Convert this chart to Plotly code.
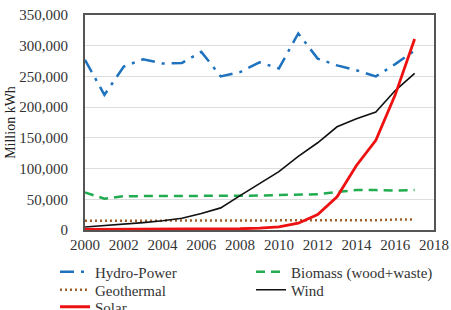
import plotly.graph_objects as go

years = list(range(2000, 2018))
hydro = [277000, 220000, 266000, 278000, 271000, 272000, 290000, 250000, 257000, 273000,
         263000, 320000, 279000, 268000, 260000, 250000, 270000, 292000]
biomass = [61000, 51000, 55000, 55000, 55000, 55000, 56000, 56000, 56000, 56000,
           57000, 57000, 58000, 62000, 65000, 65000, 64000, 65000]
geothermal = [15000, 15000, 15000, 15000, 15000, 15000, 15000, 15000, 15000, 15000,
              16000, 16000, 16000, 16000, 16000, 16000, 17000, 17000]
wind = [5000, 7000, 10000, 12000, 15000, 19000, 27000, 36000, 56000, 75000,
        95000, 120000, 142000, 168000, 181000, 192000, 227000, 255000]
solar = [1000, 1000, 1000, 1000, 1000, 1000, 1000, 2000, 2000, 3000,
         5000, 11000, 25000, 54000, 105000, 146000, 220000, 311000]

fig = go.Figure()
fig.add_trace(go.Scatter(x=years, y=hydro, name="Hydro-Power", mode="lines", legend="legend",
                         line=dict(color="#1f72bd", width=2.5, dash="14px,7px,3px,7px")))
fig.add_trace(go.Scatter(x=years, y=biomass, name="Biomass (wood+waste)", mode="lines", legend="legend2",
                         line=dict(color="#21ad4f", width=2.5, dash="9px,6px")))
fig.add_trace(go.Scatter(x=years, y=geothermal, name="Geothermal", mode="lines", legend="legend3",
                         line=dict(color="#a0602d", width=2.5, dash="2px,3px")))
fig.add_trace(go.Scatter(x=years, y=wind, name="Wind", mode="lines", legend="legend4",
                         line=dict(color="#111111", width=1.6)))
fig.add_trace(go.Scatter(x=years, y=solar, name="Solar", mode="lines", legend="legend5",
                         line=dict(color="#ee1111", width=2.8)))

W, H = 451, 310
serif = "Liberation Serif"
leg = dict(orientation="h", xref="container", yref="container", xanchor="left", yanchor="middle",
           tracegroupgap=0, font=dict(family=serif, size=15, color="#333333"), itemwidth=30,
           bgcolor="rgba(0,0,0,0)", borderwidth=0)
c1, c2 = 55 / W, 251 / W
r1, r2, r3 = 1 - 272 / H, 1 - 290 / H, 1 - 307 / H
fig.update_layout(
    width=W, height=H,
    showlegend=True,
    margin=dict(l=85, r=17, t=15, b=80),
    paper_bgcolor="white", plot_bgcolor="white",
    font=dict(family=serif, size=13, color="#333333"),
    xaxis=dict(range=[2000, 2018], dtick=2, tick0=2000, showgrid=False, automargin=False,
               showline=True, linecolor="#555555", linewidth=2, mirror=True,
               ticks="", tickfont=dict(family=serif, size=15, color="#333333"), zeroline=False),
    yaxis=dict(range=[0, 350000], dtick=50000, tickformat=",", showgrid=True,
               gridcolor="#dddddd", gridwidth=1, automargin=False, ticklabelstandoff=12,
               showline=True, linecolor="#555555", linewidth=2, mirror=True,
               ticks="", zeroline=False, tickfont=dict(family=serif, size=15, color="#333333"),
               title=dict(text="Million kWh", font=dict(family=serif, size=14, color="#222222"), standoff=0)),
    legend=dict(leg, x=c1, y=r1),
    legend2=dict(leg, x=c2, y=r1),
    legend3=dict(leg, x=c1, y=r2),
    legend4=dict(leg, x=c2, y=r2),
    legend5=dict(leg, x=c1, y=r3),
)
fig.write_html("out.html", config={"displayModeBar": False},
               post_script="document.body.style.margin='0';")
